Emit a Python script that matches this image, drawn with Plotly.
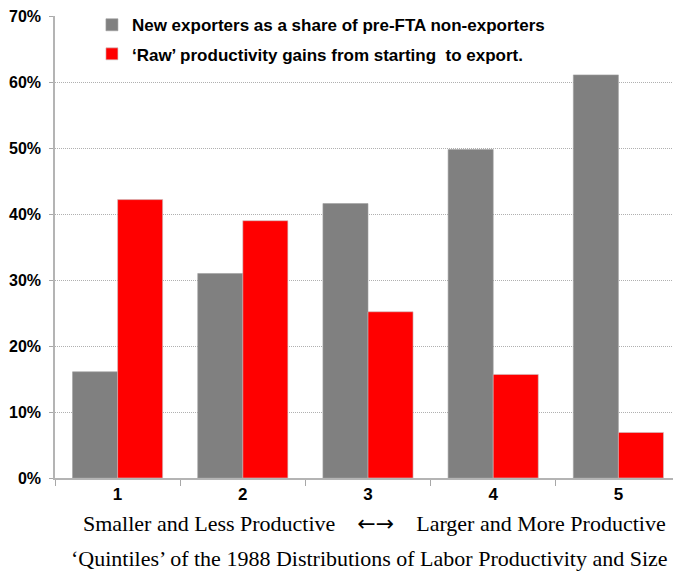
import plotly.graph_objects as go

categories = ["1", "2", "3", "4", "5"]
new_exporters = [0.161, 0.310, 0.416, 0.498, 0.611]
raw_gains = [0.422, 0.390, 0.252, 0.157, 0.069]
y_ticks = [0, 0.1, 0.2, 0.3, 0.4, 0.5, 0.6, 0.7]
y_tick_labels = ["0%", "10%", "20%", "30%", "40%", "50%", "60%", "70%"]

fig = go.Figure()
fig.add_trace(go.Bar(x=categories, y=new_exporters, name="New exporters as a share of pre-FTA non-exporters",
                     marker=dict(color="#808080", line=dict(color="#a0a0a0", width=0.6)), legendgroup="a"))
fig.add_trace(go.Bar(x=categories, y=raw_gains, name="‘Raw’ productivity gains from starting  to export.",
                     marker=dict(color="#ff0000", line=dict(color="#c8c8c8", width=0.6)), legendgroup="b"))

fig.update_layout(
    width=673, height=563,
    margin=dict(l=47, r=0, t=8, b=93, autoexpand=False),
    plot_bgcolor="white", paper_bgcolor="white",
    barmode="group", bargap=0.28, bargroupgap=0,
    showlegend=True,
    legend=dict(x=0.059, y=1.019, xanchor="left", yanchor="top", bgcolor="rgba(0,0,0,0)",
                font=dict(family="Liberation Sans, Arial", size=17, color="black", weight="bold"),
                tracegroupgap=4, itemwidth=30),
    xaxis=dict(type="category", tickson="boundaries", ticks="outside", ticklen=6, tickcolor="#a8a8a8",
               showline=True, linecolor="#b4b4b4", linewidth=1.5, showgrid=False, automargin=False,
               tickfont=dict(family="Liberation Sans, Arial", size=17, color="black", weight="bold")),
    yaxis=dict(range=[0, 0.7003], tickvals=y_ticks, ticktext=y_tick_labels, ticks="outside", ticklen=4,
               tickcolor="#a8a8a8", showline=True, linecolor="#b4b4b4", linewidth=1.5, automargin=False,
               ticklabelstandoff=5, ticklabeloverflow="allow",
               showgrid=True, gridcolor="#b0b0b0", griddash="1px,1px", gridwidth=1, zeroline=False,
               tickfont=dict(family="Liberation Sans, Arial", size=16, color="black", weight="bold")),
)

sp = "\u00a0" * 4
fig.add_annotation(text="Smaller and Less Productive" + sp
                        + "<span style='font-family:DejaVu Sans'>←→</span>" + sp
                        + "Larger and More Productive",
                   xref="paper", yref="paper", x=0.511, y=-0.0975, xanchor="center", yanchor="middle",
                   showarrow=False, font=dict(family="Liberation Serif, Times New Roman", size=22, color="black"))
fig.add_annotation(text="‘Quintiles’ of the 1988 Distributions of Labor Productivity and Size",
                   xref="paper", yref="paper", x=0.503, y=-0.175, xanchor="center", yanchor="middle",
                   showarrow=False, font=dict(family="Liberation Serif, Times New Roman", size=22, color="black"))

fig.write_html("out.html")
